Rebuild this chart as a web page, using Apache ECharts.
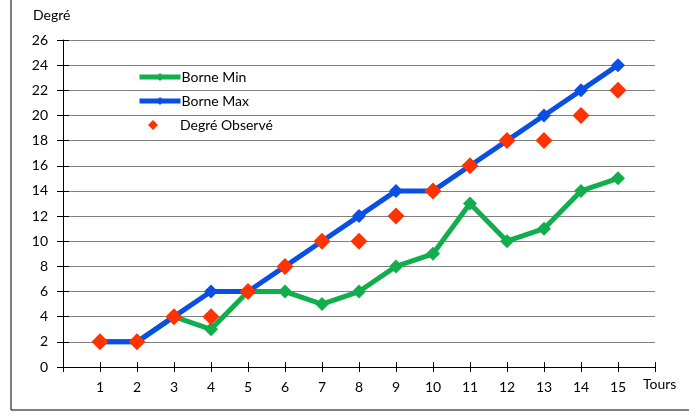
<!DOCTYPE html>
<html><head><meta charset="utf-8">
<script src="https://cdn.jsdelivr.net/npm/echarts@6/dist/echarts.min.js"></script>
<style>html,body{margin:0;padding:0;background:#fff}#c{width:689px;height:414px}</style>
</head><body><div id="c"></div>
<script>
var tours = [1,2,3,4,5,6,7,8,9,10,11,12,13,14,15];
var borneMin = [2,2,4,3,6,6,5,6,8,9,13,10,11,14,15];
var borneMax = [2,2,4,6,6,8,10,12,14,14,16,18,20,22,24];
var degreObserve = [2,2,4,4,6,8,10,10,12,14,16,18,18,20,22];
function pairs(v){return tours.map(function(t,i){return [t,v[i]];});}
var FONT = 'Lato';
var chart = echarts.init(document.getElementById('c'));
var axLine = {show:true,lineStyle:{color:'#000',width:1}};
function lg(name,top,left,w,h,pad){
  return {orient:'vertical',left:left,top:top,padding:0,itemWidth:w,itemHeight:h,
    textStyle:{fontFamily:FONT,fontSize:14,color:'#000',padding:pad},
    data:[{name:name,lineStyle:{width:5}}]};
}
chart.setOption({
  animation:false,
  textStyle:{fontFamily:FONT},
  grid:{left:63,right:34,top:40,bottom:47,containLabel:false},
  graphic:[
    {type:'line',shape:{x1:11,y1:0,x2:11,y2:410},style:{stroke:'#000',lineWidth:1}},
    {type:'line',shape:{x1:11,y1:410,x2:689,y2:410},style:{stroke:'#000',lineWidth:1}},
    {type:'text',left:33,top:8,style:{text:'Degré',fontFamily:FONT,fontSize:14,fill:'#000'}},
    {type:'text',left:643,top:377,style:{text:'Tours',fontFamily:FONT,fontSize:14,fill:'#000'}}
  ],
  legend:[
    lg('Borne Min',70,137,41,10,[0,0,0,-4]),
    lg('Borne Max',94,137,41,10,[0,0,0,-4]),
    {orient:'vertical',left:148,top:118,padding:0,itemWidth:10,itemHeight:10,
     textStyle:{fontFamily:FONT,fontSize:14,color:'#000',padding:[0,0,0,17]},
     data:['Degré Observé']}
  ],
  xAxis:[
    {type:'value',min:0,max:16,interval:1,
     axisLine:axLine,axisTick:{show:true,length:5,lineStyle:{color:'#000'}},
     splitLine:{show:false},
     axisLabel:{margin:13,fontFamily:FONT,fontSize:14,color:'#000',
       formatter:function(v){return (v>=1&&v<=15)?String(v):'';}}},
    {type:'value',min:0,max:16,interval:1,position:'bottom',
     axisLine:{show:false},axisTick:{show:true,inside:true,length:5,lineStyle:{color:'#000'}},
     splitLine:{show:false},axisLabel:{show:false}}
  ],
  yAxis:[
    {type:'value',min:0,max:26,interval:2,
     axisLine:axLine,axisTick:{show:true,length:6,lineStyle:{color:'#000'}},
     splitLine:{show:true,lineStyle:{color:'#808080',width:1}},
     axisLabel:{margin:15,fontFamily:FONT,fontSize:14,color:'#000'}},
    {type:'value',min:0,max:26,interval:2,position:'left',
     axisLine:{show:false},axisTick:{show:true,inside:true,length:6,lineStyle:{color:'#000'}},
     splitLine:{show:false},axisLabel:{show:false}}
  ],
  series:[
    {name:'Borne Min',type:'line',data:pairs(borneMin),symbol:'diamond',symbolSize:14,
     lineStyle:{color:'#12ad4c',width:5},itemStyle:{color:'#12ad4c'},z:2},
    {name:'Borne Max',type:'line',data:pairs(borneMax),symbol:'diamond',symbolSize:14,
     lineStyle:{color:'#0a4fe4',width:5},itemStyle:{color:'#0a4fe4'},z:3},
    {name:'Degré Observé',type:'scatter',data:pairs(degreObserve),symbol:'diamond',symbolSize:17,
     itemStyle:{color:'#ff3300',opacity:1},z:4}
  ]
});
</script></body></html>
